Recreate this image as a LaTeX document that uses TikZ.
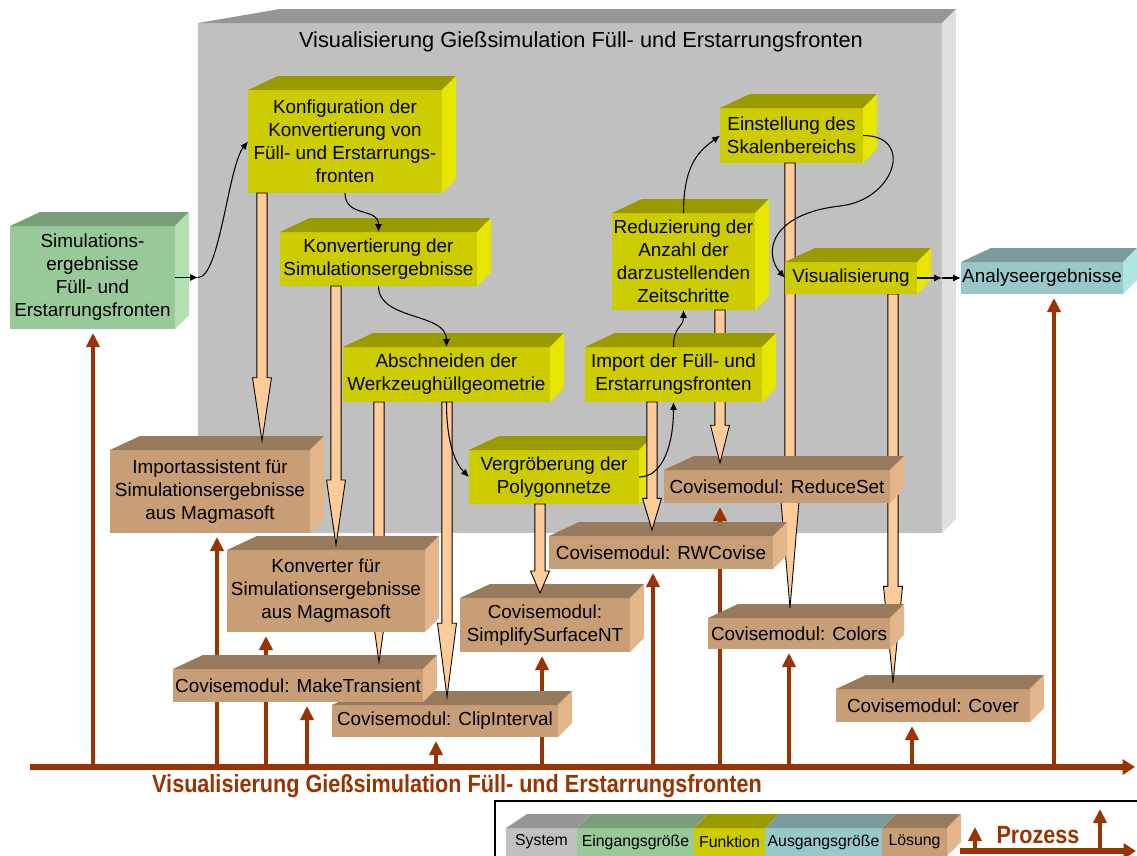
\documentclass[tikz,border=0pt]{standalone}
\usepackage{fontspec}
\setmainfont{Liberation Sans}
\usetikzlibrary{arrows.meta,calc}

\definecolor{sysFront}{RGB}{192,192,192}
\definecolor{sysTop}{RGB}{150,150,150}
\definecolor{sysSide}{RGB}{224,224,224}
\definecolor{eingFront}{RGB}{153,200,153}
\definecolor{eingTop}{RGB}{122,158,122}
\definecolor{eingSide}{RGB}{179,224,179}
\definecolor{funkFront}{RGB}{204,204,0}
\definecolor{funkTop}{RGB}{153,153,0}
\definecolor{funkSide}{RGB}{230,230,0}
\definecolor{ausgFront}{RGB}{153,200,200}
\definecolor{ausgTop}{RGB}{122,155,155}
\definecolor{ausgSide}{RGB}{179,228,228}
\definecolor{loesFront}{RGB}{200,158,118}
\definecolor{loesTop}{RGB}{152,122,92}
\definecolor{loesSide}{RGB}{226,182,138}
\definecolor{peach}{RGB}{255,204,153}
\definecolor{prozess}{RGB}{153,51,0}

\pgfdeclarelayer{back}
\pgfdeclarelayer{under}
\pgfsetlayers{back,under,main}

\def\pix{0.02cm}
% top and side face of a box node: [left slant]{node}{top colour}{side colour}
\newcommand{\boxfaces}[4][30]{%
  \fill[#3] (#2.north west) -- ++(#1,-14) -- ($(#2.north east)+(14,-14)$) -- (#2.north east) -- cycle;
  \fill[#4] (#2.north east) -- ++(14,-14) -- ($(#2.south east)+(14,-14)$) -- (#2.south east) -- cycle;
}

\tikzset{
  box/.style={inner sep=0pt, outer sep=0pt, align=center, font=\fontsize{10.75}{13.1}\selectfont},
  dims/.style 2 args={minimum width=#1*\pix, minimum height=#2*\pix},
  sysbox/.style={box, fill=sysFront},
  eingbox/.style={box, fill=eingFront},
  funkbox/.style={box, fill=funkFront},
  ausgbox/.style={box, fill=ausgFront},
  loesbox/.style={box, fill=loesFront},
  legendtext/.style={font=\fontsize{9}{11}\selectfont},
  flow/.style={-{Latex[length=4.5pt,width=4pt]}, line width=0.6pt},
  proc/.style={draw=prozess, line width=2.5pt, -{Triangle[length=8pt,width=7.5pt]}, shorten >=4*\pix},
  procbase/.style={draw=prozess, line width=3.4pt, -{Triangle[length=7pt,width=8.5pt]}},
  fat/.style={draw=black, line width=0.5pt, fill=peach,
    to path={let \p1=(\tikztostart), \p2=(\tikztotarget) in
      (\x1-2.9pt,\y1) -- (\x1-2.9pt,\y2+#1) -- (\x1-5.4pt,\y2+#1) -- (\x1,\y2)
      -- (\x1+5.4pt,\y2+#1) -- (\x1+2.9pt,\y2+#1) -- (\x1+2.9pt,\y1) -- cycle}},
}

\begin{document}
\begin{tikzpicture}[x=\pix, y=-\pix]
\useasboundingbox (0,0) rectangle (1137,856);

% system frame
\begin{pgfonlayer}{back}
  \node[sysbox, dims={744}{510}] (sys) at (570,278) {};
  \boxfaces[82]{sys}{sysTop}{sysSide}
\end{pgfonlayer}
\node[font=\fontsize{12.4}{15}\selectfont] (title) at (581,42) {Visualisierung Gießsimulation Füll- und Erstarrungsfronten};

% input and output
\node[eingbox, dims={165}{103}] (sim) at (92.5,277.5) {Simulations-\\ergebnisse\\Füll- und\\Erstarrungsfronten};
\boxfaces{sim}{eingTop}{eingSide}
\node[ausgbox, dims={162}{32}] (analyse) at (1042,278) {Analyseergebnisse};
\boxfaces{analyse}{ausgTop}{ausgSide}

% functions
\node[funkbox, dims={194}{103}] (konf) at (345,141.5) {Konfiguration der\\Konvertierung von\\Füll- und Erstarrungs-\\fronten};
\boxfaces{konf}{funkTop}{funkSide}
\node[funkbox, dims={197}{54}] (konv) at (378.5,259) {Konvertierung der\\Simulationsergebnisse};
\boxfaces{konv}{funkTop}{funkSide}
\node[funkbox, dims={207}{55}] (absch) at (446.5,374.5) {Abschneiden der\\Werkzeughüllgeometrie};
\boxfaces{absch}{funkTop}{funkSide}
\node[funkbox, dims={170}{54}] (vergr) at (554,477) {Vergröberung der\\Polygonnetze};
\boxfaces{vergr}{funkTop}{funkSide}
\node[funkbox, dims={143}{97}] (reduz) at (683.5,261.5) {Reduzierung der\\Anzahl der\\darzustellenden\\Zeitschritte};
\boxfaces{reduz}{funkTop}{funkSide}
\node[funkbox, dims={143}{55}] (einst) at (791.5,135.5) {Einstellung des\\Skalenbereichs};
\boxfaces{einst}{funkTop}{funkSide}

% solutions
\node[loesbox, dims={200}{83}] (imp) at (210,491.5) {Importassistent für\\Simulationsergebnisse\\aus Magmasoft};
\boxfaces{imp}{loesTop}{loesSide}
\node[loesbox, dims={226}{32}] (clip) at (445,721) {Covisemodul: ClipInterval};
\boxfaces{clip}{loesTop}{loesSide}
\node[loesbox, dims={250}{33}] (make) at (298,685.5) {Covisemodul: MakeTransient};
\boxfaces{make}{loesTop}{loesSide}
\node[loesbox, dims={170}{54}] (simpl) at (545,625) {Covisemodul:\\SimplifySurfaceNT};
\boxfaces{simpl}{loesTop}{loesSide}
\begin{pgfonlayer}{under}
  \node[loesbox, dims={194}{33}] (cover) at (933,705.5) {Covisemodul: Cover};
  \boxfaces{cover}{loesTop}{loesSide}
\end{pgfonlayer}

\draw[fat=38pt] (absch.south -| 379,0) to ($(make.north -| 379,0)+(0,-7)$);

\node[loesbox, dims={198}{82}] (konverter) at (326,591) {Konverter für\\Simulationsergebnisse\\aus Magmasoft};
\boxfaces{konverter}{loesTop}{loesSide}
\node[loesbox, dims={182}{31}] (colors) at (799,633.5) {Covisemodul: Colors};
\boxfaces{colors}{loesTop}{loesSide}

\draw[fat=64pt] (einst.south -| 790,0) to ($(colors.north -| 790,0)+(0,-10)$);

\node[loesbox, dims={226}{33}] (reduce) at (777,486.5) {Covisemodul: ReduceSet};
\boxfaces{reduce}{loesTop}{loesSide}
\node[loesbox, dims={224}{33}] (rw) at (661,552.5) {Covisemodul: RWCovise};
\boxfaces{rw}{loesTop}{loesSide}
\node[funkbox, dims={132}{32}] (visu) at (851,278) {Visualisierung};
\boxfaces{visu}{funkTop}{funkSide}
\begin{pgfonlayer}{under}
  \draw[fat=55pt] (visu.south -| 893,0) to ($(cover.north -| 893,0)+(0,-6)$);
\end{pgfonlayer}

\draw[fat=21.5pt] (reduz.south -| 720,0) to ($(reduce.north -| 720,0)+(0,-7)$);

\node[funkbox, dims={177}{55}] (import) at (673.5,374.5) {Import der Füll- und\\Erstarrungsfronten};
\boxfaces{import}{funkTop}{funkSide}

% data handed down to the solutions
\draw[fat=36pt] (konf.south -| 262,0) to ($(imp.north -| 262,0)+(0,-9)$);
\draw[fat=37pt] (konv.south -| 336,0) to ($(konverter.north -| 336,0)+(0,-5)$);
\draw[fat=42pt] (absch.south -| 447,0) to ($(clip.north -| 447,0)+(0,-8)$);
\draw[fat=12.5pt] (vergr.south -| 540,0) to ($(simpl.north -| 540,0)+(0,-5)$);
\draw[fat=18pt] (import.south -| 652,0) to ($(rw.north -| 652,0)+(0,-6)$);

% flow of the functions
\coordinate (sysin) at (sys.west |- sim.east);
\coordinate (sysout) at (sys.east |- visu.east);
\draw[flow] (sim.east) -- (sysin);
\draw[flow] (sysin) .. controls +(22,0) and +(-20,25) .. (konf.west);
\draw[flow] (konf.south) .. controls +(0,25) and +(0,-25) .. (konv.north);
\draw[flow] (konv.south) .. controls +(0,35) and +(0,-35) .. (absch.north);
\draw[flow] (absch.south) .. controls +(0,45) and +(-12,-12) .. (vergr.west);
\draw[flow] (vergr.east) .. controls +(25,0) and +(0,40) .. (import.south);
\draw[flow] (import.north) .. controls +(0,-22) and +(0,18) .. (reduz.south);
\draw[flow] (reduz.north) .. controls +(0,-50) and +(-20,15) .. (einst.west);
\draw[flow] (einst.east) .. controls +(52,0) and +(55,-6) .. (840,206)
  .. controls +(-70,8) and +(-22,-25) .. (visu.west);
\draw[flow] (visu.east) -- (sysout);
\draw[flow] (sysout) -- (analyse.west);

% process axis
\begin{pgfonlayer}{back}
  \coordinate (p0) at (30,767);
  \coordinate (p1) at (1135,767);
  \draw[procbase] (p0) -- (p1);
  \foreach \x/\b in {93/sim,217/imp,266/konverter,307/make,436/clip,542/simpl,653/rw,720/reduce,789/colors,912/cover,1054/analyse}
    \draw[proc] (p0 -| \x,0) -- (\b.south -| \x,0);
\end{pgfonlayer}
\node[text=prozess, font=\bfseries\fontsize{12.3}{14}\selectfont] (plabel) at (457,786)
  {\scalebox{1}[1.15]{Visualisierung Gießsimulation Füll- und Erstarrungsfronten}};

% legend
\draw[line width=0.6pt] (495,801) rectangle (1145,865);
\node[sysbox, legendtext, dims={71}{28}] (lsys) at (541.5,842) {System};
\boxfaces[21]{lsys}{sysTop}{sysSide}
\node[eingbox, legendtext, dims={117}{28}] (leing) at (635.5,842) {Eingangsgröße};
\boxfaces[14]{leing}{eingTop}{eingSide}
\node[funkbox, legendtext, dims={71}{28}] (lfunk) at (729.5,842) {Funktion};
\boxfaces[14]{lfunk}{funkTop}{funkSide}
\node[ausgbox, legendtext, dims={117}{28}] (lausg) at (823.5,842) {Ausgangsgröße};
\boxfaces[14]{lausg}{ausgTop}{ausgSide}
\node[loesbox, legendtext, dims={65}{28}] (lloes) at (914.5,842) {Lösung};
\boxfaces[14]{lloes}{loesTop}{loesSide}
\coordinate (lp0) at (960,851);
\coordinate (lp1) at (1136,851);
\coordinate (lt1) at (975,827);
\coordinate (lt2) at (1100,809);
\draw[procbase] (lp0) -- (lp1);
\draw[proc, shorten >=0pt] (lp0 -| lt1) -- (lt1);
\draw[proc, shorten >=0pt] (lp0 -| lt2) -- (lt2);
\node[text=prozess, font=\bfseries\fontsize{12.3}{14}\selectfont] (lproz) at (1038,835) {\scalebox{1}[1.15]{Prozess}};
\end{tikzpicture}
\end{document}
